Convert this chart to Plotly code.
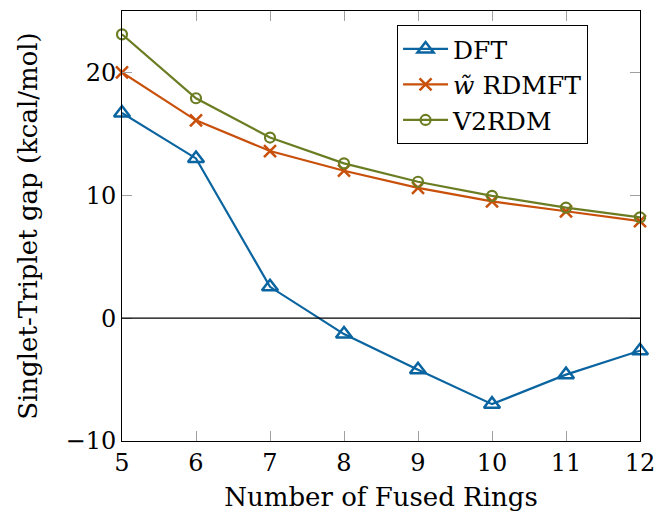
import plotly.graph_objects as go

# Singlet-triplet gaps (kcal/mol) vs. number of fused rings
rings = [5, 6, 7, 8, 9, 10, 11, 12]
dft = [16.7, 13.0, 2.55, -1.3, -4.2, -7.0, -4.6, -2.65]
rdmft = [20.0, 16.1, 13.6, 12.0, 10.6, 9.5, 8.7, 7.9]
v2rdm = [23.1, 17.9, 14.7, 12.6, 11.1, 9.95, 9.0, 8.2]

x_ticks = [5, 6, 7, 8, 9, 10, 11, 12]
y_ticks = [-10, 0, 10, 20]

FONT = "DejaVu Serif"
BLUE = "#0a64a0"
ORANGE = "#c8500a"
OLIVE = "#6b7d23"

fig = go.Figure()

fig.add_trace(go.Scatter(
    x=rings, y=dft, name="DFT", mode="lines+markers",
    line=dict(color=BLUE, width=2.2),
    marker=dict(symbol="triangle-up-open", size=14, color=BLUE,
                line=dict(width=2.5, color=BLUE)),
    cliponaxis=False,
))
fig.add_trace(go.Scatter(
    x=rings, y=rdmft, name="<i>w\u0303</i> RDMFT", mode="lines+markers",
    line=dict(color=ORANGE, width=2.2),
    marker=dict(symbol="x-thin-open", size=12, color=ORANGE,
                line=dict(width=2.5, color=ORANGE)),
    cliponaxis=False,
))
fig.add_trace(go.Scatter(
    x=rings, y=v2rdm, name="V2RDM", mode="lines+markers",
    line=dict(color=OLIVE, width=2.2),
    marker=dict(symbol="circle-open", size=10, color=OLIVE,
                line=dict(width=2.2, color=OLIVE)),
    cliponaxis=False,
))

axis_common = dict(
    showline=True, linecolor="black", linewidth=1, mirror="ticks",
    ticks="inside", ticklen=10, tickcolor="#a0a0a0", tickwidth=1,
    showgrid=False, zeroline=False, automargin=False,
    ticklabeloverflow="allow",
    tickfont=dict(family=FONT, size=24, color="black"),
)

fig.update_layout(
    width=655, height=518,
    margin=dict(l=122, r=15, t=11, b=77),
    paper_bgcolor="white", plot_bgcolor="white",
    font=dict(family=FONT, color="black"),
    xaxis=dict(
        range=[5, 12], tickvals=x_ticks,
        title=dict(text="Number of Fused Rings",
                   font=dict(family=FONT, size=26), standoff=12),
        **axis_common,
    ),
    yaxis=dict(
        range=[-10, 25], tickvals=y_ticks,
        title=dict(text="Singlet-Triplet gap (kcal/mol)",
                   font=dict(family=FONT, size=26), standoff=20),
        **axis_common,
    ),
    legend=dict(
        x=0.531, y=0.967, xanchor="left", yanchor="top",
        bgcolor="white", bordercolor="black", borderwidth=1,
        font=dict(family=FONT, size=25),
        itemwidth=45, tracegroupgap=0,
    ),
    showlegend=True,
)

# Horizontal reference line at zero
fig.add_hline(y=0, line=dict(color="black", width=1.2))

fig.write_html("out.html")
